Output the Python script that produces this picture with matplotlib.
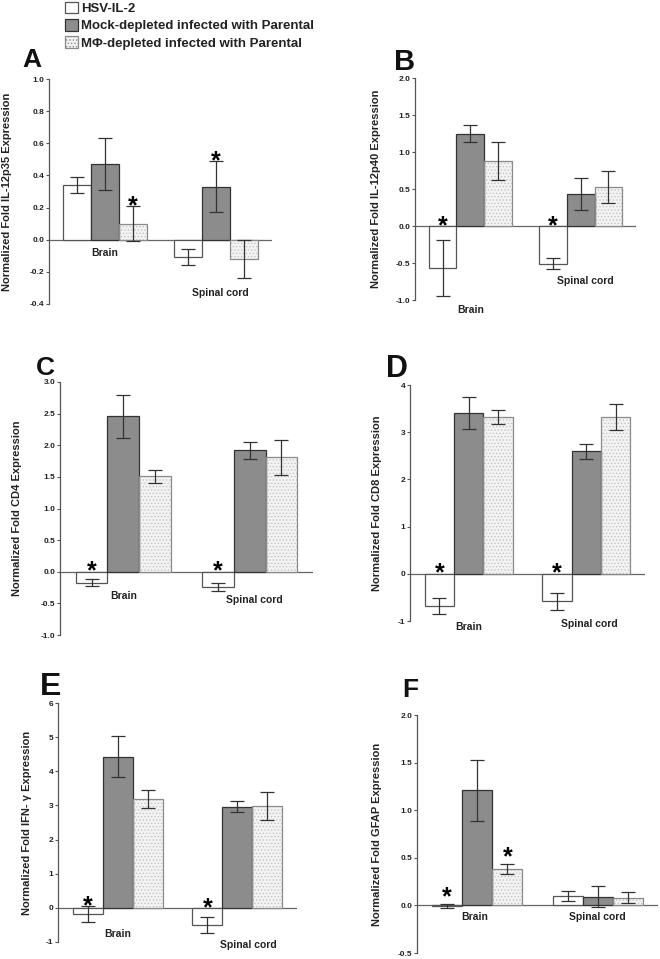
import numpy as np
import matplotlib
matplotlib.use("Agg")
import matplotlib.pyplot as plt
from matplotlib.patches import Patch

plt.rcParams["font.family"] = ["Liberation Sans", "DejaVu Sans"]
plt.rcParams["font.weight"] = "bold"
plt.rcParams["hatch.linewidth"] = 0.6

W, H = 660, 959

groups = ["Brain", "Spinal cord"]
series = ["HSV-IL-2", "Mock-depleted infected with Parental",
          "M\u03a6-depleted infected with Parental"]

# values per panel: [brain, spinal cord]
a_hsv, a_hsv_err = [0.34, -0.11], [0.05, 0.05]
a_mock, a_mock_err = [0.47, 0.33], [0.16, 0.16]
a_mphi, a_mphi_err = [0.10, -0.12], [0.11, 0.12]
a_sig = [[False, False], [False, True], [True, False]]

b_hsv, b_hsv_err = [-0.57, -0.51], [0.38, 0.075]
b_mock, b_mock_err = [1.25, 0.43], [0.115, 0.22]
b_mphi, b_mphi_err = [0.88, 0.53], [0.26, 0.22]
b_sig = [[True, True], [False, False], [False, False]]

c_hsv, c_hsv_err = [-0.17, -0.24], [0.06, 0.07]
c_mock, c_mock_err = [2.46, 1.92], [0.34, 0.13]
c_mphi, c_mphi_err = [1.51, 1.81], [0.10, 0.28]
c_sig = [[True, True], [False, False], [False, False]]

d_hsv, d_hsv_err = [-0.69, -0.58], [0.17, 0.18]
d_mock, d_mock_err = [3.41, 2.60], [0.34, 0.16]
d_mphi, d_mphi_err = [3.32, 3.32], [0.14, 0.28]
d_sig = [[True, True], [False, False], [False, False]]

e_hsv, e_hsv_err = [-0.18, -0.50], [0.23, 0.23]
e_mock, e_mock_err = [4.43, 2.96], [0.59, 0.16]
e_mphi, e_mphi_err = [3.19, 2.98], [0.26, 0.42]
e_sig = [[True, True], [False, False], [False, False]]

f_hsv, f_hsv_err = [-0.01, 0.10], [0.02, 0.05]
f_mock, f_mock_err = [1.21, 0.09], [0.32, 0.11]
f_mphi, f_mphi_err = [0.38, 0.08], [0.05, 0.06]
f_sig = [[True, False], [False, False], [True, False]]

ylabels = ["Normalized Fold IL-12p35 Expression",
           "Normalized Fold IL-12p40 Expression",
           "Normalized Fold CD4 Expression",
           "Normalized Fold CD8 Expression",
           "Normalized Fold IFN- \u03b3 Expression",
           "Normalized Fold GFAP Expression"]

panels = [
    dict(letter="A", vals=[a_hsv, a_mock, a_mphi], errs=[a_hsv_err, a_mock_err, a_mphi_err], sig=a_sig,
         ticks=np.arange(-0.4, 1.01, 0.2), fmt="{:.1f}",
         box=(49, 79, 272, 304), lab_x=7, let=(22, 67, 19), gl_y=[-0.083, -0.33], gl_dx=[0, 0.04], star=0),
    dict(letter="B", vals=[b_hsv, b_mock, b_mphi], errs=[b_hsv_err, b_mock_err, b_mphi_err], sig=b_sig,
         ticks=np.arange(-1.0, 2.01, 0.5), fmt="{:.1f}",
         box=(415, 78, 636, 300), lab_x=376, let=(394, 70, 21), gl_y=[-1.135, -0.74], gl_dx=[0, 0.045], star=0),
    dict(letter="C", vals=[c_hsv, c_mock, c_mphi], errs=[c_hsv_err, c_mock_err, c_mphi_err], sig=c_sig,
         ticks=np.arange(-1.0, 3.01, 0.5), fmt="{:.1f}",
         box=(60, 382, 313, 635), lab_x=17, let=(36, 375, 19), gl_y=[-0.38, -0.44], gl_dx=[0, 0.04], star=0),
    dict(letter="D", vals=[d_hsv, d_mock, d_mphi], errs=[d_hsv_err, d_mock_err, d_mphi_err], sig=d_sig,
         ticks=np.arange(-1, 4.01, 1), fmt="{:.0f}",
         box=(410, 385, 645, 621), lab_x=377, let=(386, 377, 22), gl_y=[-1.13, -1.06], gl_dx=[0, 0.03], star=0),
    dict(letter="E", vals=[e_hsv, e_mock, e_mphi], errs=[e_hsv_err, e_mock_err, e_mphi_err], sig=e_sig,
         ticks=np.arange(-1, 6.01, 1), fmt="{:.0f}",
         box=(58, 703, 297, 942), lab_x=27, let=(40, 695, 23), gl_y=[-0.76, -1.085], gl_dx=[0, 0.09], star=0),
    dict(letter="F", vals=[f_hsv, f_mock, f_mphi], errs=[f_hsv_err, f_mock_err, f_mphi_err], sig=f_sig,
         ticks=np.arange(-0.5, 2.01, 0.5), fmt="{:.1f}",
         box=(417, 715, 658, 953), lab_x=377, let=(402, 697, 19), gl_y=[-0.126, -0.126], gl_dx=[-0.025, 0], star=5),
]

face = ["white", "#8c8c8c", "#f3f3f3"]
edge = ["#555555", "#333333", "#8a8a8a"]
hatch = [None, None, "....."]

fig = plt.figure(figsize=(W / 100, H / 100), dpi=100)

x = np.arange(len(groups))
bw = 0.25
for i, p in enumerate(panels):
    l, t, r, b = p["box"]
    ax = fig.add_axes([l / W, 1 - b / H, (r - l) / W, (b - t) / H])
    ax.patch.set_alpha(0)
    for k in range(3):
        xs = x + (k - 1) * bw
        if hatch[k]:
            ax.bar(xs, p["vals"][k], bw, color=face[k], edgecolor="#c4c4c4", hatch=hatch[k], lw=0, zorder=2)
            ax.bar(xs, p["vals"][k], bw, fill=False, edgecolor=edge[k], lw=0.9, zorder=3)
        else:
            ax.bar(xs, p["vals"][k], bw, color=face[k], edgecolor=edge[k], lw=0.9, zorder=3)
        ax.errorbar(xs, p["vals"][k], yerr=p["errs"][k], fmt="none", ecolor="#333333",
                    elinewidth=0.9, capsize=5, capthick=0.9, zorder=4)
        for j in range(len(groups)):
            if p["sig"][k][j]:
                base = max(0, p["vals"][k][j] + p["errs"][k][j])
                ax.annotate("*", xy=(xs[j], base), xytext=(0, p["star"]), textcoords="offset points",
                            ha="center", va="center", fontsize=18, fontweight="bold", zorder=5)
    ax.axhline(0, color="#666666", lw=0.9, zorder=1)
    for j, g in enumerate(groups):
        ax.text(x[j] + p["gl_dx"][j], p["gl_y"][j], g, ha="center", va="center",
                fontsize=7.5, fontweight="bold", color="#222222")
    ax.set_xlim(-0.5, 1.5)
    ax.set_ylim(p["ticks"][0], p["ticks"][-1])
    ax.set_yticks(p["ticks"])
    ax.set_yticklabels([p["fmt"].format(v) for v in p["ticks"]])
    ax.set_xticks([])
    for s in ["top", "right", "bottom"]:
        ax.spines[s].set_visible(False)
    ax.spines["left"].set_color("#555555")
    ax.spines["left"].set_linewidth(0.9)
    ax.tick_params(axis="y", length=2.5, width=0.8, color="#555555", pad=1,
                   labelsize=6, labelcolor="#222222")
    for lab in ax.get_yticklabels():
        lab.set_fontweight("bold")
    fig.text(p["lab_x"] / W, 1 - (t + b) / 2 / H, ylabels[i], rotation=90, ha="center", va="center",
             fontsize=8, fontweight="bold", color="#222222")
    lx, ly, lsize = p["let"]
    fig.text(lx / W, 1 - ly / H, p["letter"], ha="left", va="baseline",
             fontsize=lsize, fontweight="bold", color="#111111")

handles = [Patch(facecolor=face[k], edgecolor=edge[k], hatch=hatch[k], lw=0.9) for k in range(3)]
leg = fig.legend(handles, series, loc="upper left", bbox_to_anchor=(65 / W, 1 - 2 / H), frameon=False,
                 fontsize=9.5, handlelength=0.95, handleheight=0.95, handletextpad=0.25,
                 labelspacing=0.3, borderpad=0, borderaxespad=0)
for txt in leg.get_texts():
    txt.set_fontweight("bold")
    txt.set_color("#222222")

fig.savefig("out.png", dpi=100)
